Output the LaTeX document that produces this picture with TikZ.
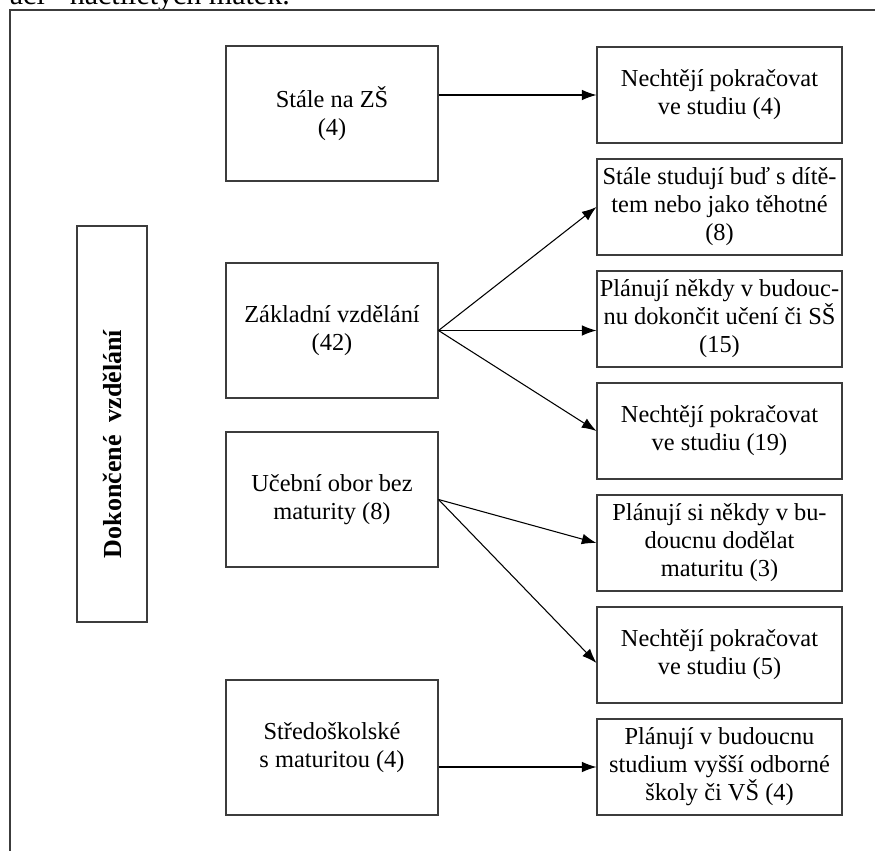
\documentclass[tikz,border=0pt]{standalone}
\usepackage{fontspec}
\setmainfont{Liberation Serif}
\usetikzlibrary{arrows.meta,positioning,calc}
\definecolor{boxline}{RGB}{60,60,60}

\begin{document}
\begin{tikzpicture}[x=0.75pt,y=-0.75pt,
  lbox/.style={draw=boxline,line width=0.8pt,minimum width=159pt,minimum height=101.25pt,inner sep=2pt,align=center,font=\fontsize{18.3}{21}\selectfont},
  rbox/.style={draw=boxline,line width=0.8pt,minimum width=183.75pt,minimum height=72pt,inner sep=2pt,align=center,font=\fontsize{18.3}{21}\selectfont},
  flow/.style={-{Latex[length=11pt,width=8pt]},line width=0.8pt}]
\useasboundingbox (0,0) rectangle (875,850);
\clip (0,0) rectangle (875,850);
% caption of the page above, cut off
\node[anchor=base east,inner sep=0pt,font=\fontsize{22.5}{27}\selectfont] (caption) at (290,4) {ací - náctiletých matek.};
\draw[boxline,line width=0.8pt] (10,880) -- (10,10) -- (890,10);
% left label
\node[draw=boxline,line width=0.8pt,rotate=90,minimum width=297pt,minimum height=52.5pt,font=\bfseries\fontsize{19.5}{22}\selectfont] (done) at (112,424) {Dokončené\ \ vzdělání\hspace*{30pt}};
% education levels
\node[lbox] (zs) at (332,113.5) {Stále na ZŠ\\(4)};
\node[lbox] (zakl) at (332,330.5) {Základní vzdělání\\(42)};
\node[lbox] (ucebni) at (332,499.5) {Učební obor bez\\maturity (8)};
\node[lbox] (stredo) at (332,747.5) {Středoškolské\\s maturitou (4)};
% plans
\foreach \n/\y/\t in {r1/95/{Nechtějí pokračovat\\ve studiu (4)},
  r2/207/{Stále studují buď s dítě-\\tem nebo jako těhotné\\(8)},
  r3/319/{Plánují někdy v budouc-\\nu dokončit učení či SŠ\\(15)},
  r4/431/{Nechtějí pokračovat\\ve studiu (19)},
  r5/543/{Plánují si někdy v bu-\\doucnu dodělat\\maturitu (3)},
  r6/655/{Nechtějí pokračovat\\ve studiu (5)},
  r7/767/{Plánují v budoucnu\\studium vyšší odborné\\školy či VŠ (4)}}{
  \node[rbox] (\n) at (719.5,\y) {\t};
}
\draw[flow] (zs.east |- r1.west) -- (r1.west);
\draw[flow] (zakl.east) -- (r2.west);
\draw[flow] (zakl.east) -- (zakl.east -| r3.west);
\draw[flow] (zakl.east) -- (r4.west);
\draw[flow] (ucebni.east) -- (r5.west);
\draw[flow] (ucebni.east) -- ($(r6.west)+(0,8)$);
\draw[flow] (stredo.east |- r7.west) -- (r7.west);
\end{tikzpicture}
\end{document}
